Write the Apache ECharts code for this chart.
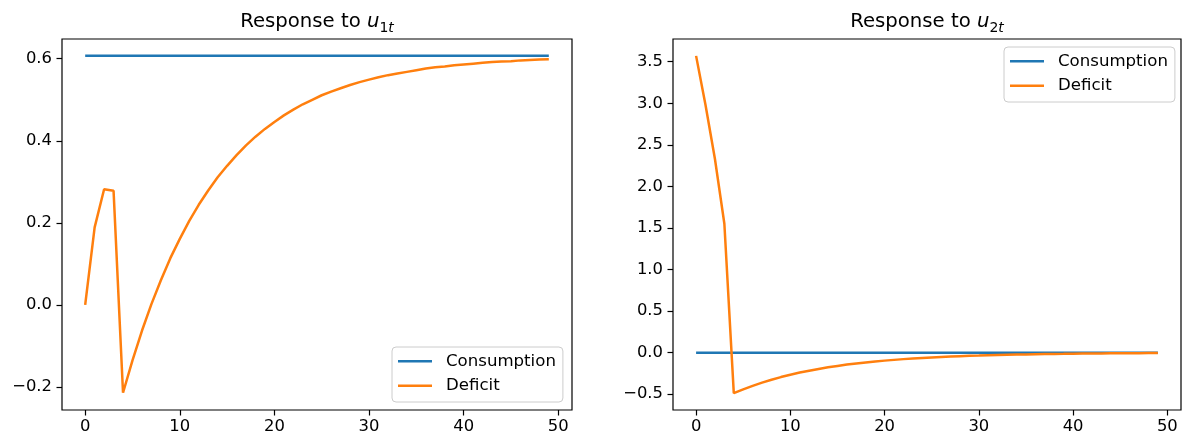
<!DOCTYPE html>
<html>
<head>
<meta charset="utf-8">
<script src="https://cdn.jsdelivr.net/npm/echarts@6/dist/echarts.min.js"></script>
<style>
html,body{margin:0;padding:0;background:#fff;}
#chart{width:1182px;height:439px;}
</style>
</head>
<body>
<div id="chart"></div>
<script>
// ---- data ----
const periods = Array.from({length: 50}, (_, i) => i);

const consumptionU1 = [0.607,0.607,0.607,0.607,0.607,0.607,0.607,0.607,0.607,0.607,
  0.607,0.607,0.607,0.607,0.607,0.607,0.607,0.607,0.607,0.607,
  0.607,0.607,0.607,0.607,0.607,0.607,0.607,0.607,0.607,0.607,
  0.607,0.607,0.607,0.607,0.607,0.607,0.607,0.607,0.607,0.607,
  0.607,0.607,0.607,0.607,0.607,0.607,0.607,0.607,0.607,0.607];
const deficitU1 = [0.000, 0.189, 0.282, 0.278, -0.214, -0.135, -0.063, 0.002, 0.060, 0.114,
  0.161, 0.205, 0.244, 0.279, 0.311, 0.339, 0.365, 0.389, 0.410, 0.429,
  0.446, 0.462, 0.476, 0.489, 0.500, 0.511, 0.520, 0.528, 0.536, 0.543,
  0.549, 0.555, 0.560, 0.564, 0.568, 0.572, 0.576, 0.579, 0.581, 0.584,
  0.586, 0.588, 0.590, 0.592, 0.593, 0.594, 0.596, 0.597, 0.598, 0.599];

const consumptionU2 = [0,0,0,0,0,0,0,0,0,0, 0,0,0,0,0,0,0,0,0,0,
  0,0,0,0,0,0,0,0,0,0, 0,0,0,0,0,0,0,0,0,0, 0,0,0,0,0,0,0,0,0,0];
const deficitU2 = [3.57, 2.98, 2.33, 1.55, -0.487, -0.442, -0.400, -0.361, -0.326, -0.294,
  -0.266, -0.240, -0.217, -0.196, -0.177, -0.160, -0.144, -0.130, -0.118, -0.106,
  -0.096, -0.087, -0.078, -0.071, -0.064, -0.058, -0.052, -0.047, -0.042, -0.038,
  -0.035, -0.031, -0.028, -0.025, -0.023, -0.021, -0.019, -0.017, -0.015, -0.014,
  -0.012, -0.011, -0.010, -0.009, -0.008, -0.0075, -0.0068, -0.0061, -0.0055, -0.0049];

const xTicks = [0, 10, 20, 30, 40, 50];
const xTickLabels = ['0', '10', '20', '30', '40', '50'];
const yTicksU1 = [-0.2, 0.0, 0.2, 0.4, 0.6];
const yTickLabelsU1 = ['\u22120.2', '0.0', '0.2', '0.4', '0.6'];
const yTicksU2 = [-0.5, 0.0, 0.5, 1.0, 1.5, 2.0, 2.5, 3.0, 3.5];
const yTickLabelsU2 = ['\u22120.5', '0.0', '0.5', '1.0', '1.5', '2.0', '2.5', '3.0', '3.5'];

const seriesNames = ['Consumption', 'Deficit'];
const colors = ['#1f77b4', '#ff7f0e'];

// ---- chart ----
const FONT = 'DejaVu Sans';
const chart = echarts.init(document.getElementById('chart'), null, {renderer: 'canvas'});

function pairs(xs, ys) { return xs.map((x, i) => [x, ys[i]]); }
function labelFor(ticks, labels) {
  return function (v) {
    for (let i = 0; i < ticks.length; i++) if (Math.abs(ticks[i] - v) < 1e-9) return labels[i];
    return '';
  };
}

function xAxis(gi) {
  return {
    type: 'value', gridIndex: gi, min: -2.45, max: 51.45, position: 'bottom',
    axisLine: {show: false, onZero: false},
    splitLine: {show: false},
    axisTick: {show: true, length: 5.5, lineStyle: {color: '#000', width: 1.2}, customValues: xTicks},
    axisLabel: {show: true, customValues: xTicks, formatter: labelFor(xTicks, xTickLabels),
      margin: 9, color: '#000', fontFamily: FONT, fontSize: 16.4}
  };
}
function yAxis(gi, min, max, ticks, labels) {
  return {
    type: 'value', gridIndex: gi, min: min, max: max, position: 'left',
    axisLine: {show: false, onZero: false},
    splitLine: {show: false},
    axisTick: {show: true, length: 5.5, lineStyle: {color: '#000', width: 1.2}, customValues: ticks},
    axisLabel: {show: true, customValues: ticks, formatter: labelFor(ticks, labels),
      margin: 10, color: '#000', fontFamily: FONT, fontSize: 16.4}
  };
}
function line(name, gi, ys, color) {
  return {
    type: 'line', name: name, xAxisIndex: gi, yAxisIndex: gi,
    data: pairs(periods, ys), symbol: 'none', showSymbol: false,
    lineStyle: {color: color, width: 2.5}, itemStyle: {color: color},
    animation: false, z: name === 'Deficit' ? 3 : 2
  };
}
function legend(left, top) {
  return {
    data: seriesNames, orient: 'vertical', left: left, top: top,
    icon: 'rect', itemWidth: 34, itemHeight: 2.5, itemGap: 6,
    padding: [5, 7, 7, 6],
    backgroundColor: 'rgba(255,255,255,0.8)', borderColor: '#cccccc', borderWidth: 1, borderRadius: 4,
    textStyle: {fontFamily: FONT, fontSize: 16.6, color: '#000', lineHeight: 18.5, padding: [0, 0, 0, 9]},
    selectedMode: false
  };
}
const titleRich = {
  a: {fontFamily: FONT, fontSize: 19.7, color: '#000', lineHeight: 26},
  u: {fontFamily: FONT, fontSize: 19.7, fontStyle: 'italic', color: '#000', lineHeight: 26},
  s: {fontFamily: FONT, fontSize: 14, color: '#000', lineHeight: 14, padding: [12, 0, 0, 0]},
  t: {fontFamily: FONT, fontSize: 14, fontStyle: 'italic', color: '#000', lineHeight: 14, padding: [12, 0, 0, 0]}
};

const option = {
  backgroundColor: '#fff',
  animation: false,
  grid: [
    {left: 62, top: 39, width: 510, height: 371, show: true, borderColor: '#000', borderWidth: 1.2, backgroundColor: 'transparent'},
    {left: 673, top: 39, width: 508, height: 371, show: true, borderColor: '#000', borderWidth: 1.2, backgroundColor: 'transparent'}
  ],
  xAxis: [xAxis(0), xAxis(1)],
  yAxis: [
    yAxis(0, -0.2561, 0.6481, yTicksU1, yTickLabelsU1),
    yAxis(1, -0.690, 3.773, yTicksU2, yTickLabelsU2)
  ],
  legend: [legend(392, 347), legend(1004, 47)],
  graphic: [
    {type: 'text', x: 317, y: 22, style: {text: '{a|Response to }{u|u}{s|1}{t|t}', rich: titleRich, align: 'center', verticalAlign: 'middle'}},
    {type: 'text', x: 927, y: 22, style: {text: '{a|Response to }{u|u}{s|2}{t|t}', rich: titleRich, align: 'center', verticalAlign: 'middle'}}
  ],
  series: [
    line('Consumption', 0, consumptionU1, colors[0]),
    line('Deficit', 0, deficitU1, colors[1]),
    line('Consumption', 1, consumptionU2, colors[0]),
    line('Deficit', 1, deficitU2, colors[1])
  ]
};
chart.setOption(option);
</script>
</body>
</html>
